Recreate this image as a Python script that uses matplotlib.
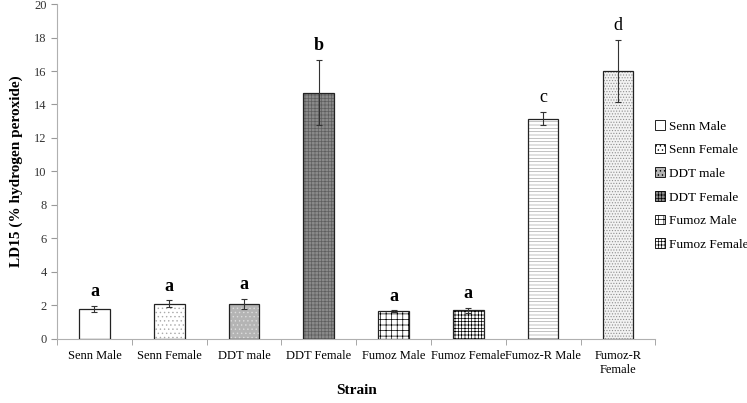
import matplotlib as mpl
import matplotlib.pyplot as plt
from matplotlib.patches import Patch
import numpy as np

mpl.rcParams.update({
    "font.family": "Liberation Serif",
    "font.size": 9,
    "hatch.linewidth": 0.5,
})

strains = ["Senn Male", "Senn Female", "DDT male", "DDT Female",
           "Fumoz Male", "Fumoz Female", "Fumoz-R Male", "Fumoz-R\nFemale"]
ld15 = [1.78, 2.1, 2.1, 14.7, 1.65, 1.7, 13.15, 16.0]
err = [0.2, 0.2, 0.3, 1.95, 0.05, 0.15, 0.4, 1.85]
letters = ["a", "a", "a", "b", "a", "a", "c", "d"]
legend_n = 6  # legend only lists the first six strains

fills = ["white", "white", "#b4b4b4", "#8a8a8a", "white", "white", "white", "#f2f2f2"]
hatches = [None, "....", "....", "+++++", "+++", "+++++", "-----", "......"]
hatch_cols = ["black", "#aaaaaa", "#dcdcdc", "#5e5e5e", "black", "black", "#a8a8a8", "#8f8f8f"]
letter_bold = [True, True, True, True, True, True, False, False]

fig = plt.figure(figsize=(7.47, 4.03), dpi=100)
ax = fig.add_axes([0.0763, 0.159, 0.801, 0.831])

x = np.arange(len(strains))
w = 0.41
for i in x:
    ax.bar(i, ld15[i], w, color=fills[i], hatch=hatches[i],
           edgecolor=hatch_cols[i], linewidth=0, zorder=2)
    ax.bar(i, ld15[i], w, fill=False, edgecolor="#222222", linewidth=0.9, zorder=3)
    ax.errorbar(i, ld15[i], yerr=err[i], fmt="none", ecolor="#333333",
                elinewidth=0.8, capsize=2.5, capthick=0.8, zorder=4)
    ax.text(i, ld15[i] + err[i] + 0.35, letters[i], ha="center", va="bottom",
            fontsize=13, fontweight="bold" if letter_bold[i] else "normal")

ax.set_xlim(-0.5, len(strains) - 0.5)
ax.set_ylim(0, 20)
ax.set_yticks(range(0, 21, 2))
ax.set_xticks(x)
ax.set_xticklabels(strains, fontsize=9)
ax.set_xticks(np.arange(-0.5, len(strains), 1), minor=True)
ax.tick_params(axis="x", which="major", length=0, pad=8)
ax.tick_params(axis="x", which="minor", length=4, color="#999999")
ax.tick_params(axis="y", length=4, color="#999999", labelsize=9, labelcolor="#333333")
for s in ("top", "right"):
    ax.spines[s].set_visible(False)
for s in ("left", "bottom"):
    ax.spines[s].set_color("#b0b0b0")
    ax.spines[s].set_linewidth(0.8)

ax.set_ylabel("LD15 (% hydrogen peroxide)", fontsize=11, fontweight="bold", labelpad=8)
ax.set_xlabel("Strain", fontsize=11, fontweight="bold", labelpad=6)

handles = [Patch(facecolor=fills[i], hatch=hatches[i], edgecolor="black", linewidth=0.6)
           for i in range(legend_n)]
fig.legend(handles, strains[:legend_n], loc="upper left", bbox_to_anchor=(0.87, 0.715),
           frameon=False, fontsize=9.5, handlelength=0.75, handleheight=0.75,
           handletextpad=0.3, labelspacing=0.85, borderaxespad=0)

fig.savefig("out.png", dpi=100)
